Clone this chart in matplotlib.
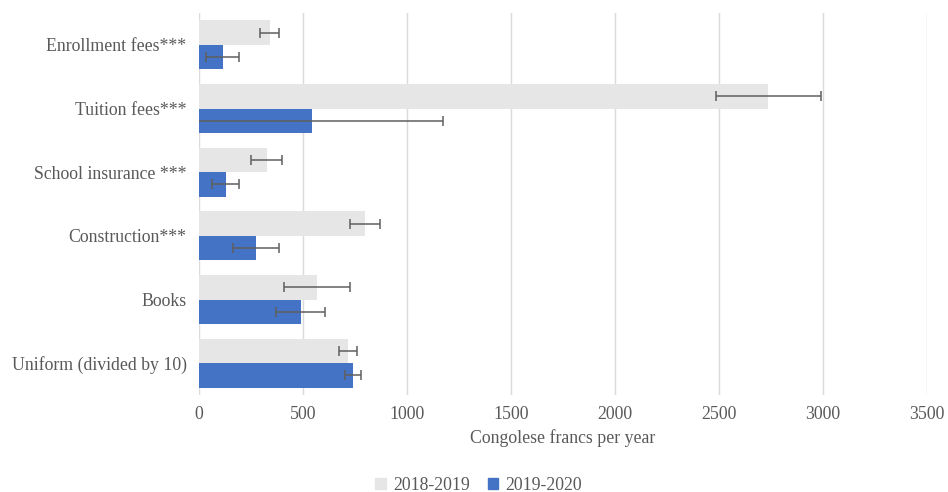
import numpy as np
import matplotlib
matplotlib.use("Agg")
from matplotlib import pyplot as plt
from matplotlib.patches import Patch

categories = ["Enrollment fees***", "Tuition fees***", "School insurance ***",
              "Construction***", "Books", "Uniform (divided by 10)"]
years = ["2018-2019", "2019-2020"]

vals_1819 = [341, 2736, 325, 798, 568, 716]
err_1819 = [46, 252, 75, 74, 160, 43]
vals_1920 = [115, 545, 128, 274, 490, 741]
err_1920 = [79, 628, 65, 112, 118, 38]

plt.rcParams['font.family'] = ['Liberation Serif', 'DejaVu Serif']
txt = '#595959'
fs = 12.8

fig = plt.figure(figsize=(9.48, 4.92), dpi=100)
ax = fig.add_axes([199/948, 1-395/492, (927-199)/948, (395-13)/492])

y = np.arange(len(categories))
h = 0.385
ekw = dict(ecolor='#5f5f5f', elinewidth=1.1, capsize=3.5, capthick=1.1)
ax.barh(y - h/2, vals_1819, height=h, color='#e6e6e6', xerr=err_1819,
        error_kw=ekw, zorder=2)
ax.barh(y + h/2, vals_1920, height=h, color='#4472c4', xerr=err_1920,
        error_kw=ekw, zorder=2)

ax.set_xlim(0, 3500)
ax.set_ylim(len(categories) - 0.5, -0.5)
ax.set_xticks(np.arange(0, 3501, 500))
ax.set_yticks(y)
ax.set_yticklabels(categories)
ax.grid(axis='x', color='#dadada', linewidth=1, zorder=0)
ax.set_axisbelow(True)
for s in ax.spines.values():
    s.set_visible(False)
ax.tick_params(length=0, labelsize=fs, colors=txt, pad=9)
ax.tick_params(axis='x', pad=8)
ax.set_xlabel("Congolese francs per year", fontsize=fs, color=txt, labelpad=4)

handles = [Patch(color='#e6e6e6'), Patch(color='#4472c4')]
fig.legend(handles, years, loc='center', bbox_to_anchor=(0.505, 1-485/492),
           ncol=2, frameon=False, fontsize=fs, labelcolor=txt,
           handlelength=0.6, handleheight=0.6, handletextpad=0.4, columnspacing=1.0)

fig.savefig("out.png", dpi=100)
